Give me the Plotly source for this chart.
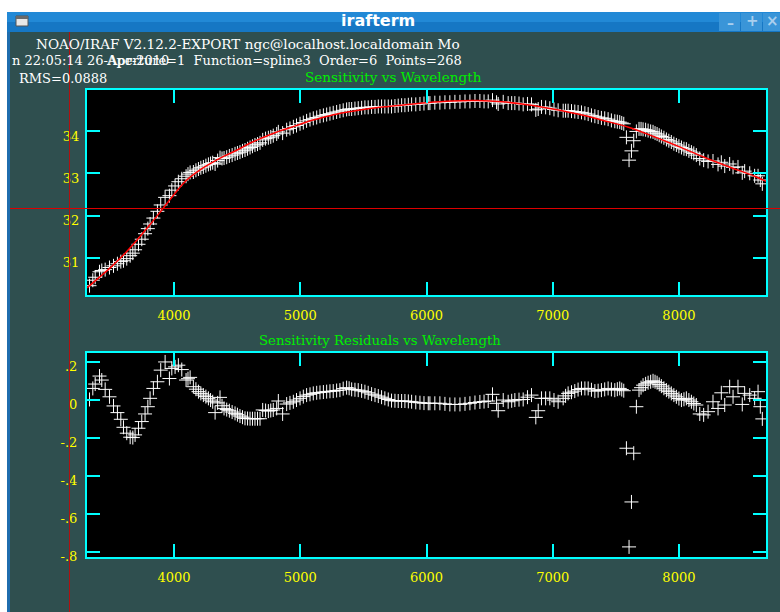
import plotly.graph_objects as go

W, H = 780, 612

# ---------------- data ----------------
wave = [3330, 3356, 3375, 3409, 3427, 3454, 3488, 3520, 3551, 3578,
        3599, 3625, 3652, 3673, 3691, 3718, 3744, 3770, 3792, 3810,
        3836, 3868, 3894, 3929, 3963, 3982, 4008, 4034, 4061, 4095,
        4110, 4127, 4153, 4173, 4193, 4212, 4232, 4252, 4272, 4289,
        4306, 4325, 4345, 4364, 4380, 4396, 4417, 4438, 4460, 4483,
        4502, 4522, 4542, 4562, 4582, 4602, 4621, 4641, 4661, 4681,
        4702, 4725, 4747, 4766, 4786, 4813, 4826, 4860, 4892, 4918,
        4945, 4970, 4998, 5024, 5050, 5077, 5103, 5130, 5156, 5183,
        5209, 5235, 5261, 5288, 5314, 5340, 5367, 5387, 5407, 5433,
        5459, 5486, 5512, 5538, 5565, 5592, 5618, 5644, 5670, 5697,
        5723, 5750, 5776, 5803, 5829, 5856, 5882, 5915, 5948, 5980,
        6014, 6027, 6066, 6106, 6146, 6185, 6225, 6265, 6305, 6344,
        6384, 6423, 6456, 6489, 6523, 6555, 6568, 6608, 6647, 6675,
        6700, 6733, 6766, 6800, 6832, 6866, 6885, 6911, 6944, 6977,
        7010, 7043, 7083, 7102, 7122, 7149, 7175, 7201, 7228, 7255,
        7281, 7307, 7334, 7360, 7386, 7412, 7439, 7465, 7492, 7512,
        7531, 7547, 7563, 7584, 7605, 7624, 7642, 7663, 7684, 7700,
        7716, 7736, 7756, 7776, 7795, 7811, 7827, 7844, 7861, 7881,
        7901, 7920, 7940, 7960, 7980, 8000, 8020, 8040, 8059, 8079,
        8099, 8118, 8138, 8165, 8196, 8231, 8270, 8310, 8336, 8363,
        8402, 8429, 8468, 8502, 8521, 8561, 8600, 8627, 8645, 8661]

sens = [30.34, 30.47, 30.54, 30.67, 30.70, 30.72, 30.77, 30.81, 30.86, 30.91,
        30.93, 30.98, 31.05, 31.11, 31.19, 31.32, 31.44, 31.57, 31.69, 31.80,
        31.94, 32.10, 32.25, 32.43, 32.47, 32.60, 32.70, 32.80, 32.87, 32.93,
        32.98, 33.02, 33.03, 33.07, 33.10, 33.13, 33.15, 33.18, 33.21, 33.23,
        33.25, 33.22, 33.30, 33.37, 33.35, 33.36, 33.38, 33.41, 33.43, 33.46,
        33.48, 33.50, 33.53, 33.55, 33.58, 33.61, 33.64, 33.67, 33.69, 33.72,
        33.79, 33.82, 33.84, 33.86, 33.89, 33.93, 33.98, 33.95, 34.03, 34.06,
        34.10, 34.13, 34.17, 34.20, 34.24, 34.27, 34.30, 34.32, 34.35, 34.37,
        34.39, 34.41, 34.43, 34.45, 34.47, 34.49, 34.51, 34.52, 34.52, 34.53,
        34.54, 34.55, 34.56, 34.56, 34.57, 34.57, 34.58, 34.58, 34.58, 34.58,
        34.58, 34.59, 34.60, 34.61, 34.61, 34.62, 34.63, 34.63, 34.64, 34.65,
        34.66, 34.66, 34.67, 34.67, 34.68, 34.68, 34.69, 34.69, 34.70, 34.70,
        34.71, 34.71, 34.70, 34.70, 34.73, 34.68, 34.64, 34.69, 34.66, 34.66,
        34.66, 34.65, 34.63, 34.64, 34.63, 34.50, 34.52, 34.57, 34.56, 34.54,
        34.51, 34.49, 34.48, 34.48, 34.48, 34.47, 34.46, 34.45, 34.44, 34.42,
        34.40, 34.37, 34.35, 34.33, 34.31, 34.30, 34.28, 34.25, 34.23, 34.22,
        34.21, 34.19, 34.17, 33.85, 33.31, 33.53, 33.77, 33.99, 34.05, 34.05,
        34.04, 34.03, 34.01, 33.99, 33.98, 33.95, 33.93, 33.90, 33.87, 33.84,
        33.80, 33.77, 33.74, 33.70, 33.67, 33.64, 33.61, 33.58, 33.57, 33.53,
        33.50, 33.47, 33.43, 33.35, 33.31, 33.28, 33.29, 33.21, 33.26, 33.17,
        33.22, 33.14, 33.15, 33.01, 33.05, 33.00, 32.94, 32.94, 32.84, 32.75]

resid = [0.003, 0.061, 0.084, 0.126, 0.105, 0.056, 0.017, -0.031, -0.066, -0.101,
         -0.143, -0.174, -0.195, -0.197, -0.183, -0.148, -0.113, -0.073, -0.035, 0.009,
         0.061, 0.096, 0.157, 0.200, 0.113, 0.166, 0.174, 0.183, 0.160, 0.105,
         0.112, 0.119, 0.070, 0.057, 0.044, 0.035, 0.026, 0.018, 0.009, 0.000,
         -0.009, -0.066, -0.015, 0.014, -0.030, -0.044, -0.050, -0.056, -0.063, -0.070,
         -0.077, -0.084, -0.090, -0.096, -0.097, -0.098, -0.098, -0.098, -0.098, -0.098,
         -0.052, -0.055, -0.058, -0.055, -0.052, -0.044, -0.005, -0.073, -0.021, -0.015,
         -0.009, 0.000, 0.009, 0.018, 0.026, 0.030, 0.035, 0.038, 0.040, 0.042,
         0.044, 0.046, 0.047, 0.050, 0.052, 0.060, 0.065, 0.062, 0.056, 0.054,
         0.052, 0.048, 0.044, 0.038, 0.031, 0.026, 0.021, 0.015, 0.009, 0.003,
         -0.003, -0.004, -0.005, -0.005, -0.005, -0.007, -0.009, -0.012, -0.014, -0.016,
         -0.017, -0.017, -0.017, -0.017, -0.020, -0.023, -0.023, -0.023, -0.020, -0.017,
         -0.013, -0.010, -0.008, -0.005, 0.030, -0.017, -0.056, 0.000, -0.009, -0.004,
         0.000, 0.002, 0.003, 0.015, 0.026, -0.091, -0.056, 0.009, 0.009, 0.009,
         0.000, -0.009, 0.009, 0.022, 0.035, 0.041, 0.047, 0.055, 0.061, 0.061,
         0.061, 0.054, 0.047, 0.049, 0.052, 0.056, 0.061, 0.056, 0.052, 0.057,
         0.061, 0.055, 0.049, -0.253, -0.771, -0.535, -0.279, -0.035, 0.052, 0.065,
         0.078, 0.085, 0.091, 0.096, 0.101, 0.096, 0.091, 0.082, 0.073, 0.062,
         0.052, 0.044, 0.035, 0.026, 0.017, 0.008, 0.000, 0.004, 0.009, 0.000,
         -0.009, -0.018, -0.026, -0.073, -0.078, -0.061, -0.009, -0.044, 0.038, -0.026,
         0.070, 0.017, 0.070, -0.023, 0.035, 0.026, 0.009, 0.044, -0.035, -0.099]

fit_wave = [3310, 3400, 3500, 3600, 3700, 3800, 3900, 4000, 4100, 4200, 4300, 4400, 4500, 4600, 4700,
            4800, 4900, 5000, 5100, 5200, 5300, 5400, 5500, 5600, 5700, 5800, 5900, 6000, 6200, 6400,
            6600, 6800, 7000, 7200, 7400, 7600, 7800, 8000, 8200, 8400, 8600, 8690]
fit_sens = [30.29, 30.52, 30.78, 31.07, 31.40, 31.75, 32.12, 32.50, 32.84, 33.07, 33.25, 33.41, 33.55, 33.71, 33.84,
            33.96, 34.06, 34.16, 34.26, 34.34, 34.41, 34.46, 34.51, 34.55, 34.58, 34.61, 34.64, 34.67, 34.71, 34.72,
            34.69, 34.62, 34.52, 34.40, 34.25, 34.09, 33.87, 33.63, 33.38, 33.15, 32.93, 32.81]

x_tickvals = [4000, 5000, 6000, 7000, 8000]
x_ticktext = ["4000", "5000", "6000", "7000", "8000"]
y1_tickvals = [31, 32, 33, 34]
y1_ticktext = ["31", "32", "33", "34"]
y2_tickvals = [0.2, 0.0, -0.2, -0.4, -0.6, -0.8]
y2_ticktext = [".2", "0", "-.2", "-.4", "-.6", "-.8"]

header1 = "NOAO/IRAF V2.12.2-EXPORT ngc@localhost.localdomain Mo"
header2a = "n 22:05:14 26-Apr-2010"
header2b = "Aperture=1  Function=spline3  Order=6  Points=268"
header3 = "RMS=0.0888"
title1 = "Sensitivity vs Wavelength"
title2 = "Sensitivity Residuals vs Wavelength"
window_title = "irafterm"

# ---------------- styling ----------------
BG = "#2F4F4F"
CYAN = "#00FFFF"
YELLOW = "#FFFF00"
GREEN = "#00EE00"
SERIF = "DejaVu Serif"
FS = 13


def px(x):
    return x / W


def py(y):
    return 1 - y / H


fig = go.Figure()

cross = dict(symbol="cross-thin", size=10, color="white", line=dict(color="white", width=1))

fig.add_trace(go.Scatter(x=wave, y=sens, mode="markers", marker=cross, xaxis="x", yaxis="y",
                         hoverinfo="skip"))
fig.add_trace(go.Scatter(x=fit_wave, y=fit_sens, mode="lines", xaxis="x", yaxis="y",
                         line=dict(color="#FF0000", width=1.5, shape="spline"), hoverinfo="skip"))
fig.add_trace(go.Scatter(x=wave, y=resid, mode="markers", marker=cross, xaxis="x2", yaxis="y2",
                         hoverinfo="skip"))

x_dom = [px(87), px(766)]
axis_common = dict(
    showgrid=False, zeroline=False, showline=True, linecolor=CYAN, linewidth=2, mirror="ticks",
    ticks="inside", ticklen=13, tickwidth=2, tickcolor=CYAN, automargin=False,
    tickfont=dict(family=SERIF, size=FS, color=YELLOW),
)

fig.update_layout(
    template="none",
    width=W, height=H, autosize=False,
    margin=dict(l=0, r=0, t=0, b=0, pad=0, autoexpand=False),
    paper_bgcolor=BG, plot_bgcolor="black",
    showlegend=False,
    xaxis=dict(domain=x_dom, anchor="y", range=[3310, 8690], tickvals=x_tickvals, ticktext=x_ticktext,
               ticklabelstandoff=7, **axis_common),
    yaxis=dict(domain=[py(295), py(90)], anchor="x", range=[30.12, 34.97], tickvals=y1_tickvals,
               ticktext=y1_ticktext, ticklabelstandoff=3, ticklabelshift=5, **axis_common),
    xaxis2=dict(domain=x_dom, anchor="y2", range=[3310, 8690], tickvals=x_tickvals, ticktext=x_ticktext,
                ticklabelstandoff=7, **axis_common),
    yaxis2=dict(domain=[py(557), py(353)], anchor="x2", range=[-0.824, 0.247], tickvals=y2_tickvals,
                ticktext=y2_ticktext, ticklabelstandoff=5, ticklabelshift=4, **axis_common),
)

shapes = []
# window chrome
shapes.append(dict(type="rect", xref="paper", yref="paper", x0=0, x1=1, y0=py(12), y1=1,
                   fillcolor="white", line=dict(width=0), layer="above"))
shapes.append(dict(type="rect", xref="paper", yref="paper", x0=0, x1=px(7), y0=0, y1=1,
                   fillcolor="white", line=dict(width=0), layer="above"))
shapes.append(dict(type="rect", xref="paper", yref="paper", x0=px(7), x1=px(10), y0=0, y1=py(32),
                   fillcolor="#1F6DAE", line=dict(width=0), layer="above"))
shapes.append(dict(type="rect", xref="paper", yref="paper", x0=px(7), x1=1, y0=py(22), y1=py(12),
                   fillcolor="#2289D6", line=dict(width=0), layer="above"))
shapes.append(dict(type="rect", xref="paper", yref="paper", x0=px(7), x1=1, y0=py(32), y1=py(22),
                   fillcolor="#1677C4", line=dict(width=0), layer="above"))
# window icon
shapes.append(dict(type="rect", xref="paper", yref="paper", x0=px(16), x1=px(28), y0=py(26), y1=py(16),
                   fillcolor="#E8E8E8", line=dict(color="#555555", width=1), layer="above"))
shapes.append(dict(type="rect", xref="paper", yref="paper", x0=px(16), x1=px(28), y0=py(19), y1=py(16),
                   fillcolor="#6A6A6A", line=dict(width=0), layer="above"))
# buttons
for bx0, bx1 in [(719, 740), (741, 762), (763, 780)]:
    shapes.append(dict(type="rect", xref="paper", yref="paper", x0=px(bx0), x1=px(bx1), y0=py(31), y1=py(13),
                       fillcolor="#3A95D8", line=dict(width=0), layer="above"))
# cursor crosshair
shapes.append(dict(type="line", xref="paper", yref="paper", x0=px(10), x1=1, y0=py(208.5), y1=py(208.5),
                   line=dict(color="#DD0000", width=1), layer="above"))
shapes.append(dict(type="line", xref="paper", yref="paper", x0=px(69.5), x1=px(69.5), y0=0, y1=py(32),
                   line=dict(color="#B01010", width=1), layer="above"))
fig.update_layout(shapes=shapes)

ann = []


def text(s, x, y, color="white", size=FS, family=SERIF, anchor="left", bold=False):
    ann.append(dict(text=s, x=px(x), y=py(y), xref="paper", yref="paper", showarrow=False,
                    xanchor=anchor, yanchor="middle",
                    font=dict(family=family, size=size, color=color, weight="bold" if bold else "normal")))


text(window_title, 378, 21, size=16, family="DejaVu Sans", anchor="center", bold=True)
text("\u2013", 730, 23, color="#A9CFEE", size=14, family="DejaVu Sans", anchor="center", bold=True)
text("+", 752, 21, color="#A9CFEE", size=15, family="DejaVu Sans", anchor="center", bold=True)
text("\u00d7", 772, 21, color="#A9CFEE", size=15, family="DejaVu Sans", anchor="center", bold=True)

text(header1, 34, 44, size=13.6)
text(header2a, 10, 61)
text(header2b, 104, 61)
text(header3, 17, 78)
text(title1, 393, 77, color=GREEN, anchor="center", size=13.6)
text(title2, 380, 340, color=GREEN, anchor="center", size=13.3)

fig.update_layout(annotations=ann)

fig.write_html("out.html", config={"displayModeBar": False})
